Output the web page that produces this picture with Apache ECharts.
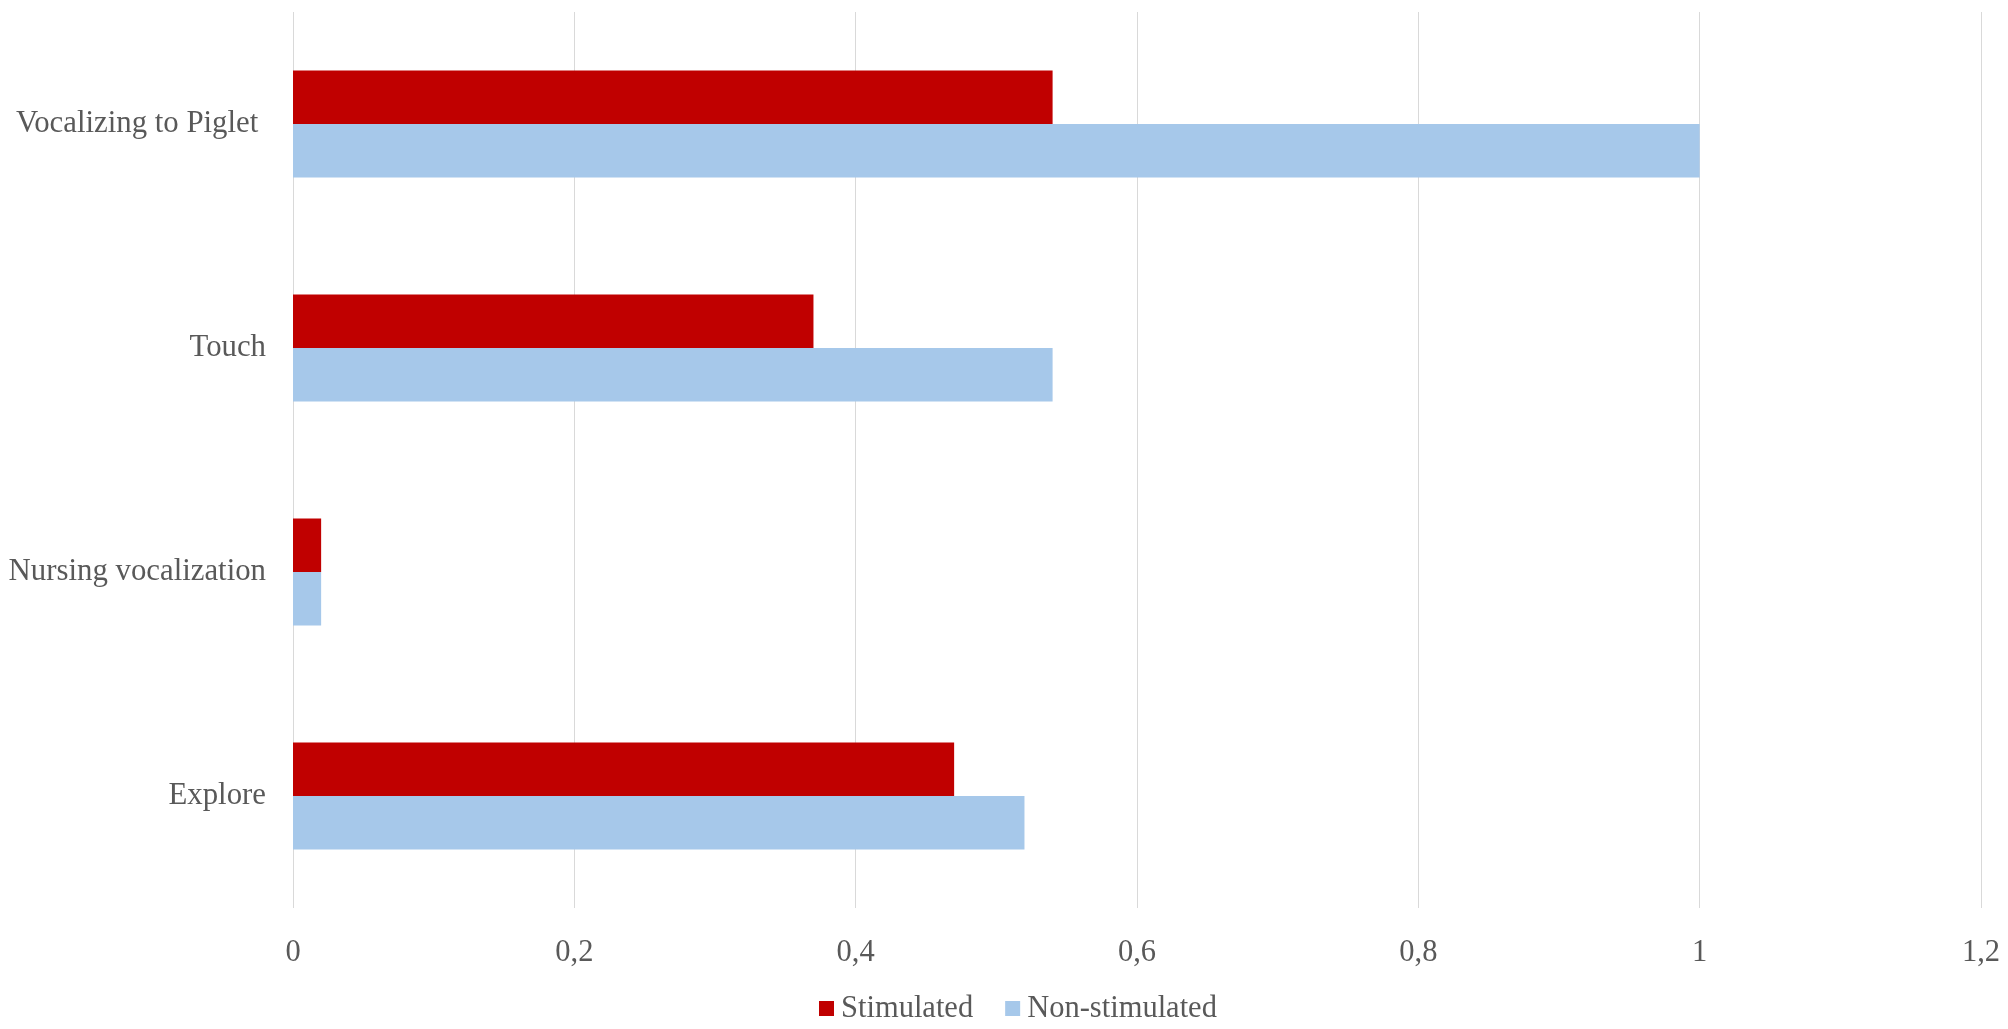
<!DOCTYPE html>
<html>
<head>
<meta charset="utf-8">
<script src="https://cdn.jsdelivr.net/npm/echarts@6/dist/echarts.min.js"></script>
<style>html,body{margin:0;padding:0;background:#fff}#c{width:2008px;height:1029px}</style>
</head>
<body>
<div id="c"></div>
<script>
const categories = ['Explore', 'Nursing vocalization', 'Touch', 'Vocalizing to Piglet '];
const stimulated = [0.47, 0.02, 0.37, 0.54];
const nonStimulated = [0.52, 0.02, 0.54, 1.0];
const tickValues = [0, 0.2, 0.4, 0.6, 0.8, 1, 1.2];
const tickLabels = ['0', '0,2', '0,4', '0,6', '0,8', '1', '1,2'];

const chart = echarts.init(document.getElementById('c'));
const font = 'Liberation Serif';
chart.setOption({
  animation: false,
  grid: { left: 293, right: 27, top: 12, bottom: 121, containLabel: false },
  legend: {
    data: ['Stimulated', 'Non-stimulated'],
    left: 814, top: 988,
    itemWidth: 15, itemHeight: 15, itemGap: 32,
    icon: 'rect',
    textStyle: { fontFamily: font, fontSize: 30.5, color: '#595959', padding: [0, 0, 0, 2] }
  },
  xAxis: {
    type: 'value', min: 0, max: 1.2, interval: 0.2,
    axisLine: { show: false }, axisTick: { show: false },
    splitLine: { lineStyle: { color: '#d9d9d9', width: 1 } },
    axisLabel: {
      margin: 29, fontFamily: font, fontSize: 30.5, color: '#595959',
      formatter: function (v) {
        const i = tickValues.findIndex(t => Math.abs(t - v) < 1e-9);
        return i >= 0 ? tickLabels[i] : String(v);
      }
    }
  },
  yAxis: {
    type: 'category', data: categories,
    axisLine: { show: false }, axisTick: { show: false },
    axisLabel: { margin: 27, fontFamily: font, fontSize: 30.8, color: '#595959' }
  },
  series: [
    { name: 'Stimulated', type: 'bar', data: stimulated, barWidth: 53.5, barGap: '0%',
      itemStyle: { color: '#c00000' } },
    { name: 'Non-stimulated', type: 'bar', data: nonStimulated, barWidth: 53.5, barGap: '0%',
      itemStyle: { color: '#a6c8ea' } }
  ]
});
</script>
</body>
</html>
